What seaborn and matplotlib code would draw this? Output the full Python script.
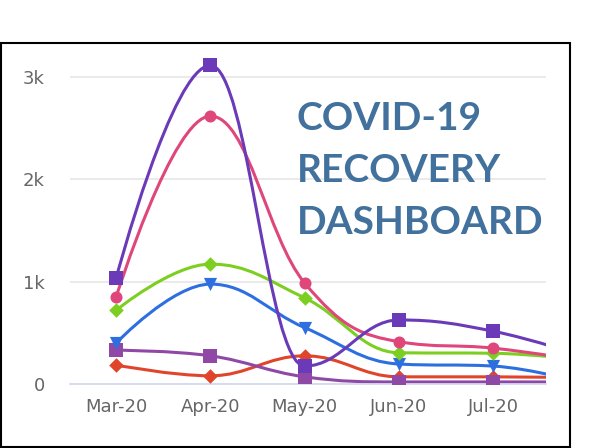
import numpy as np
import pandas as pd
import matplotlib
matplotlib.use("Agg")
import matplotlib.pyplot as plt
import seaborn as sns
from matplotlib.path import Path
from matplotlib.patches import PathPatch, Rectangle

# months shown on the axis; the last value of each series (Aug) runs off the right edge
months = ["Mar-20", "Apr-20", "May-20", "Jun-20", "Jul-20", "Aug-20"]
tick_months = ["Mar-20", "Apr-20", "May-20", "Jun-20", "Jul-20"]

red_vals = [185, 80, 275, 70, 70, 60]
violet_vals = [330, 275, 70, 20, 20, 20]
blue_vals = [400, 975, 550, 195, 175, 0]
green_vals = [720, 1170, 840, 305, 300, 230]
pink_vals = [850, 2615, 985, 413, 350, 220]
purple_vals = [1035, 3110, 175, 625, 515, 260]

series = [
    ("red", red_vals, "#e0452b", "D", 55),
    ("violet", violet_vals, "#9048a6", "s", 95),
    ("blue", blue_vals, "#2d6fe0", "v", 90),
    ("green", green_vals, "#7ccf21", "D", 55),
    ("pink", pink_vals, "#df4679", "o", 75),
    ("purple", purple_vals, "#6a3ab9", "s", 95),
]


def spline_path(xs, ys, smoothing=1.5):
    # highcharts-like spline: cubic bezier through every point
    denom = smoothing + 1
    n = len(xs)
    left = [None] * n
    right = [None] * n
    for i in range(n):
        x, y = xs[i], ys[i]
        if i == 0 or i == n - 1:
            left[i] = (x, y)
            right[i] = (x, y)
            continue
        lx, ly = xs[i - 1], ys[i - 1]
        nx, ny = xs[i + 1], ys[i + 1]
        lcx = (smoothing * x + lx) / denom
        lcy = (smoothing * y + ly) / denom
        rcx = (smoothing * x + nx) / denom
        rcy = (smoothing * y + ny) / denom
        corr = ((rcy - lcy) * (rcx - x)) / (rcx - lcx) + y - rcy
        lcy += corr
        rcy += corr
        if lcy > ly and lcy > y:
            lcy = max(ly, y)
            rcy = 2 * y - lcy
        elif lcy < ly and lcy < y:
            lcy = min(ly, y)
            rcy = 2 * y - lcy
        if rcy > ny and rcy > y:
            rcy = max(ny, y)
            lcy = 2 * y - rcy
        elif rcy < ny and rcy < y:
            rcy = min(ny, y)
            lcy = 2 * y - rcy
        left[i] = (lcx, lcy)
        right[i] = (rcx, rcy)
    verts = [(xs[0], ys[0])]
    codes = [Path.MOVETO]
    for i in range(1, n):
        verts += [right[i - 1], left[i], (xs[i], ys[i])]
        codes += [Path.CURVE4] * 3
    return Path(verts, codes)


sns.set_style("white")
plt.rcParams["font.family"] = ["DejaVu Sans"]
fig = plt.figure(figsize=(5.91, 4.48), dpi=100)
ax = fig.add_axes([70 / 591, 64 / 448, 476 / 591, 333 / 448])

xpos = np.arange(len(months))
for name, vals, color, marker, size in series:
    df = pd.DataFrame({"x": xpos, "y": vals})
    ax.add_patch(PathPatch(spline_path(df["x"].tolist(), df["y"].tolist()),
                           facecolor="none", edgecolor=color, lw=2.2, zorder=2))
    sns.scatterplot(data=df, x="x", y="y", marker=marker, s=size, color=color,
                    linewidth=0, ax=ax, zorder=3, clip_on=True)

ax.set_xlim(-0.49, 4.56)
ax.set_ylim(0, 3250)
ax.set_xticks(range(len(tick_months)))
ax.set_xticklabels(tick_months)
ax.set_yticks([0, 1000, 2000, 3000])
ax.set_yticklabels(["0", "1k", "2k", "3k"])
ax.tick_params(axis="both", length=0, labelsize=13, labelcolor="#666666")
ax.tick_params(axis="y", pad=18)
ax.tick_params(axis="x", pad=10)
ax.set_xlabel("")
ax.set_ylabel("")
for y in [1000, 2000, 3000]:
    ax.axhline(y, color="#e6e6e6", lw=1.2, zorder=0)
for s in ["top", "right", "left"]:
    ax.spines[s].set_visible(False)
ax.spines["bottom"].set_color("#ccd6eb")
ax.spines["bottom"].set_linewidth(1.2)

# black frame around the chart
fig.patches.append(Rectangle((1 / 591, 1 / 448), 569 / 591, 404 / 448,
                             transform=fig.transFigure, fill=False,
                             edgecolor="black", lw=1.5))

title_lines = ["COVID-19", "RECOVERY", "DASHBOARD"]
for i, line in enumerate(title_lines):
    fig.text(297 / 591, 1 - (118 + 52 * i) / 448, line, family=["Lato", "DejaVu Sans"],
             fontweight="bold", fontsize=28, color="#41719c", va="center", ha="left")

fig.savefig("out.png", dpi=100)
